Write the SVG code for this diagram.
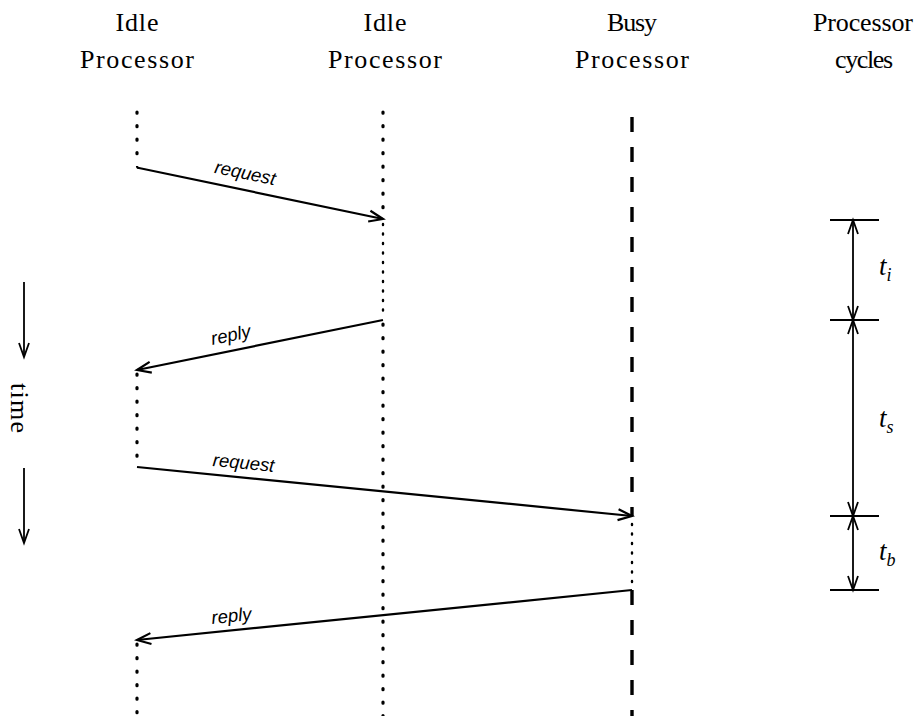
<svg xmlns="http://www.w3.org/2000/svg" width="915" height="716" viewBox="0 0 915 716">
<style>
.hdr{font-family:"Liberation Serif",serif;font-size:26px;fill:#000;text-anchor:middle}
.lbl{font-family:"Liberation Sans",sans-serif;font-style:italic;font-size:18.5px;fill:#000;text-anchor:middle}
.math{font-family:"Liberation Serif",serif;font-style:italic;font-size:27px;fill:#000}
.dot{stroke:#000;stroke-width:3.2;stroke-linecap:round;stroke-dasharray:1.2 12.3;fill:none}
.fine{stroke:#000;stroke-width:2.4;stroke-linecap:round;stroke-dasharray:1 8.5;fill:none}
.dash{stroke:#000;stroke-width:3.4;stroke-dasharray:15 15;fill:none}
.msg{stroke:#000;stroke-width:2.2;fill:none}
.dim{stroke:#000;stroke-width:1.8;fill:none}
</style>
<defs>
<marker id="ah" markerUnits="userSpaceOnUse" markerWidth="16" markerHeight="12" refX="14" refY="6" orient="auto-start-reverse" overflow="visible">
<path d="M0,0.5 L14,6 L0,11.5" fill="none" stroke="#000" stroke-width="2.2"/>
</marker>
<marker id="ahs" markerUnits="userSpaceOnUse" markerWidth="16" markerHeight="12" refX="14" refY="6" orient="auto-start-reverse" overflow="visible">
<path d="M0,1 L14,6 L0,11" fill="none" stroke="#000" stroke-width="1.8"/>
</marker>
</defs>
<rect width="915" height="716" fill="#fff"/>

<g id="idle1">
<text class="hdr" x="137" y="31" textLength="43">Idle</text>
<text class="hdr" x="137" y="68" textLength="114">Processor</text>
<line class="dot" x1="137" y1="112" x2="137" y2="166"/>
<line class="dot" x1="137" y1="374" x2="137" y2="462"/>
<line class="dot" x1="137" y1="644" x2="137" y2="716"/>
</g>

<g id="idle2">
<text class="hdr" x="385" y="31" textLength="43">Idle</text>
<text class="hdr" x="385" y="68" textLength="114">Processor</text>
<line class="dot" x1="383" y1="112" x2="383" y2="216"/>
<line class="fine" x1="383" y1="224" x2="383" y2="316"/>
<line class="dot" x1="383" y1="324" x2="383" y2="716"/>
</g>

<g id="busy">
<text class="hdr" x="632" y="31" textLength="50">Busy</text>
<text class="hdr" x="632" y="68" textLength="114">Processor</text>
<line class="dash" x1="632" y1="117" x2="632" y2="516"/>
<line class="fine" x1="632" y1="524" x2="632" y2="586"/>
<line class="dash" x1="632" y1="590" x2="632" y2="716"/>
</g>

<g id="cycles">
<text class="hdr" x="863" y="31" textLength="100">Processor</text>
<text class="hdr" x="864" y="68" textLength="58">cycles</text>
<line class="dim" x1="830" y1="220" x2="879" y2="220"/>
<line class="dim" x1="830" y1="320" x2="879" y2="320"/>
<line class="dim" x1="830" y1="516" x2="879" y2="516"/>
<line class="dim" x1="830" y1="590" x2="879" y2="590"/>
<text class="math" x="879" y="275">t<tspan font-size="18" dy="6">i</tspan></text>
<text class="math" x="879" y="427">t<tspan font-size="18" dy="6">s</tspan></text>
<text class="math" x="879" y="560">t<tspan font-size="18" dy="6">b</tspan></text>
</g>

<g id="time">
<line class="dim" x1="24" y1="282" x2="24" y2="357" marker-end="url(#ahs)"/>
<text class="hdr" transform="translate(11,408) rotate(90)" textLength="50">time</text>
<line class="dim" x1="24" y1="468" x2="24" y2="543" marker-end="url(#ahs)"/>
</g>

<g id="connectors">
<path class="msg" d="M137,166 Q137,168 139,168 L383,219" marker-end="url(#ah)"/>
<path class="msg" d="M383,320 L137,370" marker-end="url(#ah)"/>
<path class="msg" d="M137,467 L632,516" marker-end="url(#ah)"/>
<path class="msg" d="M632,590 L137,640" marker-end="url(#ah)"/>
<line class="dim" x1="853" y1="220" x2="853" y2="320" marker-start="url(#ahs)" marker-end="url(#ahs)"/>
<line class="dim" x1="853" y1="320" x2="853" y2="516" marker-start="url(#ahs)" marker-end="url(#ahs)"/>
<line class="dim" x1="853" y1="516" x2="853" y2="590" marker-start="url(#ahs)" marker-end="url(#ahs)"/>
<text class="lbl" transform="translate(244,179) rotate(11.7)">request</text>
<text class="lbl" transform="translate(232,341) rotate(-11.5)">reply</text>
<text class="lbl" transform="translate(243,469) rotate(5.6)">request</text>
<text class="lbl" transform="translate(232,622) rotate(-5.8)">reply</text>
</g>
</svg>
